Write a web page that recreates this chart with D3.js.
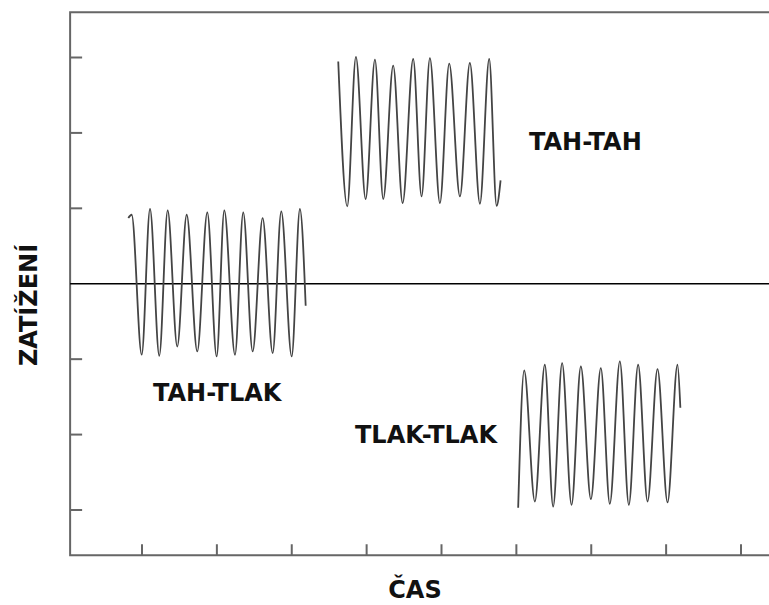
<!DOCTYPE html>
<html>
<head>
<meta charset="utf-8">
<script src="https://cdn.jsdelivr.net/npm/d3@7"></script>
<style>
    body { margin: 0; background: #fff; }
    .label { font-family: 'DejaVu Sans', sans-serif; font-weight: bold; font-size: 24px; fill: #111; }
</style>
</head>
<body>
<div id="chart"></div>
<script>
// waveform points: [time, load]
let tahTlak = [
    [0.817, 0.871], [0.862, 0.915], [0.996, -0.941], [1.107, 0.991], [1.231, -0.955],
    [1.343, 0.972], [1.471, -0.832], [1.597, 0.915], [1.738, -0.898], [1.872, 0.946],
    [1.997, -0.964], [2.099, 0.972], [2.242, -0.942], [2.352, 0.946], [2.478, -0.898],
    [2.611, 0.871], [2.745, -0.919], [2.860, 0.959], [2.999, -0.964], [3.109, 0.991],
    [3.186, -0.292]
];
let tahTah = [
    [3.621, 2.948], [3.741, 1.027], [3.857, 3.007], [3.987, 1.123], [4.111, 2.971],
    [4.222, 1.123], [4.355, 2.891], [4.481, 1.070], [4.622, 2.980], [4.734, 1.158],
    [4.845, 2.993], [4.979, 1.070], [5.103, 2.918], [5.246, 1.158], [5.379, 2.927],
    [5.513, 1.061], [5.637, 2.980], [5.736, 1.034], [5.789, 1.370]
];
let tlakTlak = [
    [6.024, -2.971], [6.104, -1.150], [6.247, -2.887], [6.380, -1.074], [6.491, -2.954],
    [6.611, -1.052], [6.737, -2.931], [6.861, -1.097], [6.995, -2.855], [7.128, -1.118],
    [7.248, -2.918], [7.382, -1.030], [7.502, -2.931], [7.626, -1.074], [7.752, -2.887],
    [7.885, -1.131], [8.019, -2.900], [8.152, -1.074], [8.190, -1.645]
];

// tick positions:
let xTicks = [1, 2, 3, 4, 5, 6, 7, 8, 9];
let yTicks = [-3, -2, -1, 1, 2, 3];

// labels:
let xTitle = 'ČAS';
let yTitle = 'ZATÍŽENÍ';
let seriesLabels = ['TAH-TLAK', 'TAH-TAH', 'TLAK-TLAK'];

// svg size:
let svgWidth = 769;
let svgHeight = 605;

let svg = d3.select('#chart').append('svg')
    .attr('width', svgWidth)
    .attr('height', svgHeight);

// scales:
let xScale = d3.scaleLinear().domain([1, 9]).range([142, 741]);
let yScale = d3.scaleLinear().domain([-3, 3]).range([510, 57.5]);

let frameLeft = xScale(0.04);
let frameTop = yScale(3.6);
let frameBottom = yScale(-3.6);

let frameColor = '#666';

// frame: left, top, bottom
svg.append('path')
    .attr('d', `M${svgWidth},${frameTop}H${frameLeft}V${frameBottom}H${svgWidth}`)
    .attr('fill', 'none')
    .attr('stroke', frameColor)
    .attr('stroke-width', 2);

// y ticks pointing inside
svg.selectAll('.ytick')
    .data(yTicks)
    .enter()
    .append('line')
    .classed('ytick', true)
    .attr('x1', frameLeft)
    .attr('x2', frameLeft + 12)
    .attr('y1', d => yScale(d))
    .attr('y2', d => yScale(d))
    .attr('stroke', frameColor)
    .attr('stroke-width', 2);

// x ticks pointing up
svg.selectAll('.xtick')
    .data(xTicks)
    .enter()
    .append('line')
    .classed('xtick', true)
    .attr('x1', d => xScale(d))
    .attr('x2', d => xScale(d))
    .attr('y1', frameBottom)
    .attr('y2', frameBottom - 11)
    .attr('stroke', frameColor)
    .attr('stroke-width', 2);

// zero line
svg.append('line')
    .attr('x1', frameLeft)
    .attr('x2', svgWidth)
    .attr('y1', yScale(0))
    .attr('y2', yScale(0))
    .attr('stroke', '#000')
    .attr('stroke-width', 1.6);

// waveforms
let line = d3.line()
    .x(d => xScale(d[0]))
    .y(d => yScale(d[1]))
    .curve(d3.curveMonotoneX);

svg.selectAll('.wave')
    .data([tahTlak, tahTah, tlakTlak])
    .enter()
    .append('path')
    .classed('wave', true)
    .attr('d', line)
    .attr('fill', 'none')
    .attr('stroke', '#444')
    .attr('stroke-width', 1.8)
    .attr('stroke-linejoin', 'round');

// series labels
svg.append('text').classed('label', true)
    .attr('x', 153).attr('y', 401)
    .text(seriesLabels[0]);

svg.append('text').classed('label', true)
    .attr('x', 529).attr('y', 150)
    .text(seriesLabels[1]);

svg.append('text').classed('label', true)
    .attr('x', 355).attr('y', 443)
    .text(seriesLabels[2]);

// axis titles
svg.append('text').classed('label', true)
    .attr('x', 415).attr('y', 598)
    .attr('text-anchor', 'middle')
    .text(xTitle);

svg.append('text').classed('label', true)
    .attr('transform', 'translate(37, 305) rotate(-90)')
    .attr('text-anchor', 'middle')
    .text(yTitle);
</script>
</body>
</html>
